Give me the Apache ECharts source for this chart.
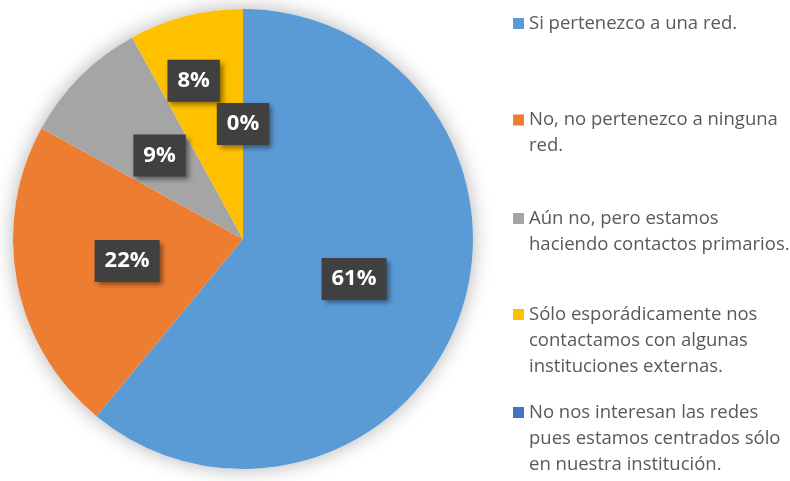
<!DOCTYPE html>
<html>
<head>
<meta charset="utf-8">
<script src="https://cdn.jsdelivr.net/npm/echarts@6/dist/echarts.min.js"></script>
<style>
  html, body { margin: 0; padding: 0; background: #ffffff; }
  #chart { width: 790px; height: 481px; }
</style>
</head>
<body>
<div id="chart"></div>
<script>
// Survey answers and their share of responses (%)
const categories = [
  'Si pertenezco a una red.',
  'No, no pertenezco a ninguna red.',
  'Aún no, pero estamos haciendo contactos primarios.',
  'Sólo esporádicamente nos contactamos con algunas instituciones externas.',
  'No nos interesan las redes pues estamos centrados sólo en nuestra institución.'
];
const values = [61, 22, 9, 8, 0];
const colors = ['#5b9bd5', '#ed7d31', '#a5a5a5', '#ffc000', '#4472c4'];

// Legend entries broken into lines
const legendLines = [
  ['Si pertenezco a una red.'],
  ['No, no pertenezco a ninguna', 'red.'],
  ['Aún no, pero estamos', 'haciendo contactos primarios.'],
  ['Sólo esporádicamente nos', 'contactamos con algunas', 'instituciones externas.'],
  ['No nos interesan las redes', 'pues estamos centrados sólo', 'en nuestra institución.']
];

// Layout settings
const pieCenter = [243, 239];
const pieRadius = 230;
const legendLeft = 513;
const legendFirstLine = [23.5, 120, 218.5, 314.5, 412.5]; // icon centre per entry
const lineH = 26;
const labelNudge = { 3: { dx: -20, dy: -44 }, 4: { dy: 3 } };

const chart = echarts.init(document.getElementById('chart'), null, { renderer: 'canvas' });

// Each entry gets its own legend so spacing follows the column layout;
// blank lines above keep the square beside the first text line.
const legends = categories.map((name, i) => {
  const lines = legendLines[i];
  const extra = lines.length - 1;
  return {
    show: true,
    orient: 'vertical',
    left: legendLeft,
    top: legendFirstLine[i] - (2 * extra + 1) * lineH / 2,
    padding: 0,
    itemWidth: 11,
    itemHeight: 11,
    icon: 'rect',
    selectedMode: false,
    data: [name],
    formatter: () => '\n'.repeat(extra) + lines.join('\n'),
    textStyle: {
      fontFamily: 'Open Sans',
      fontSize: 18.5,
      lineHeight: lineH,
      color: '#595959'
    }
  };
});

chart.setOption({
  animation: false,
  backgroundColor: '#ffffff',
  color: colors,
  legend: legends,
  series: [
    {
      // soft halo under the disc
      type: 'pie',
      silent: true,
      z: 1,
      center: pieCenter,
      radius: pieRadius,
      data: [{ value: 1, name: 'base' }],
      label: { show: false },
      labelLine: { show: false },
      itemStyle: {
        color: '#ffffff',
        shadowBlur: 20,
        shadowColor: 'rgba(0,0,0,0.30)'
      }
    },
    {
      type: 'pie',
      z: 2,
      center: pieCenter,
      radius: pieRadius,
      startAngle: 90,
      clockwise: true,
      avoidLabelOverlap: false,
      emphasis: { disabled: true },
      data: categories.map((name, i) => ({
        name: name,
        value: values[i],
        itemStyle: { color: colors[i] }
      })),
      itemStyle: { borderWidth: 0 },
      label: {
        show: true,
        position: 'inside',
        formatter: '{c}%',
        fontFamily: 'Open Sans',
        fontWeight: 'bold',
        fontSize: 22,
        lineHeight: 26,
        color: '#ffffff',
        backgroundColor: '#404040',
        padding: [8, 10, 8, 10],
        shadowColor: 'rgba(0,0,0,0.45)',
        shadowBlur: 5,
        shadowOffsetX: 3,
        shadowOffsetY: 3
      },
      labelLine: { show: false },
      labelLayout: (p) => labelNudge[p.dataIndex] || {}
    }
  ]
});
</script>
</body>
</html>
